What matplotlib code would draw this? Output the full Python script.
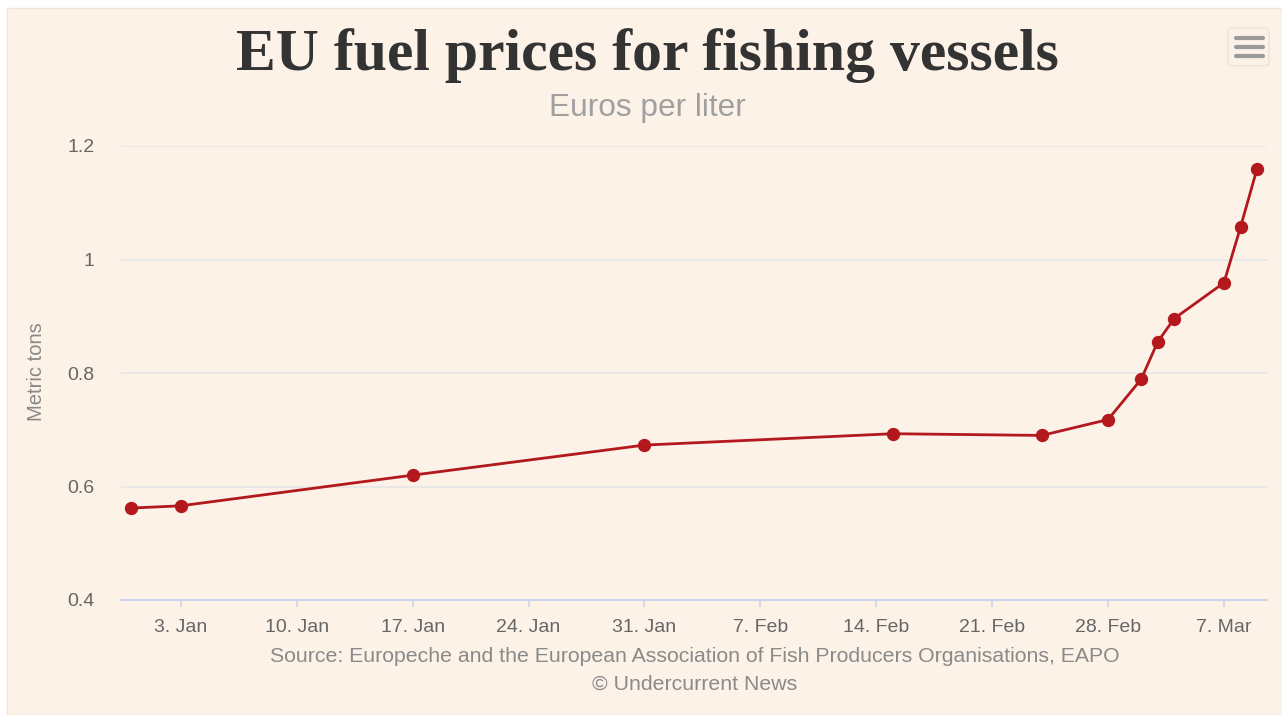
import numpy as np
import pandas as pd

import matplotlib
matplotlib.use("Agg")
import matplotlib.pyplot as plt
import matplotlib.dates as mdates
from matplotlib.patches import Rectangle, FancyBboxPatch

# data (euros per liter)
dates = pd.to_datetime([
    "2021-12-31", "2022-01-03", "2022-01-17", "2022-01-31", "2022-02-15",
    "2022-02-24", "2022-02-28", "2022-03-02", "2022-03-03", "2022-03-04",
    "2022-03-07", "2022-03-08", "2022-03-09",
])
prices = [0.562, 0.566, 0.620, 0.673, 0.693, 0.690, 0.718,
          0.789, 0.855, 0.896, 0.959, 1.057, 1.160]

y_ticks = [0.4, 0.6, 0.8, 1.0, 1.2]
y_tick_labels = ["0.4", "0.6", "0.8", "1", "1.2"]

TITLE = "EU fuel prices for fishing vessels"
SUBTITLE = "Euros per liter"
Y_LABEL = "Metric tons"
SOURCE = "Source: Europeche and the European Association of Fish Producers Organisations, EAPO"
CREDIT = "\u00a9 Undercurrent News"

BG = "#fdf2e8"
LINE_RED = "#b3181d"
W, H = 1282, 715

plt.rcParams["font.family"] = ["Liberation Sans", "DejaVu Sans"]

fig = plt.figure(figsize=(W / 100, H / 100), dpi=100, facecolor="white")

# pixel-space overlay for background and decorations
deco = fig.add_axes([0, 0, 1, 1], zorder=0)
deco.set_xlim(0, W)
deco.set_ylim(H, 0)
deco.axis("off")
deco.add_patch(Rectangle((7, 8), W - 7, H - 8, facecolor=BG, edgecolor="#f0e4da", lw=1))

# hamburger menu
deco.add_patch(FancyBboxPatch((1228, 28), 41, 38, boxstyle="round,pad=0,rounding_size=4",
                              facecolor=BG, edgecolor="#f1e2d4", lw=1))
for yy in (38, 47, 56):
    deco.plot([1236, 1263], [yy, yy], color="#9a9a9a", lw=3, solid_capstyle="round")

deco.text(647, 70, TITLE, ha="center", va="baseline", fontsize=43,
          family="Liberation Serif", fontweight="bold", color="#333333")
deco.text(647, 116, SUBTITLE, ha="center", va="baseline", fontsize=22.8, color="#a0a0a0")
deco.text(695, 657, SOURCE, ha="center", va="center", fontsize=15.3, color="#8a8a8a")
deco.text(695, 684, CREDIT, ha="center", va="center", fontsize=15.3, color="#8a8a8a")
deco.text(37, 372, Y_LABEL, ha="center", va="center", rotation=90, fontsize=14.5, color="#888888")

# main plot
ax = fig.add_axes([121 / W, 1 - 600 / H, (1267 - 121) / W, (600 - 146) / H], zorder=1)
ax.patch.set_alpha(0)

ax.plot(dates, prices, color=LINE_RED, lw=2.0, marker="o", markersize=9.6,
        markeredgewidth=0, zorder=3)

ax.set_ylim(0.4, 1.2)
ax.set_yticks(y_ticks)
ax.set_yticklabels(y_tick_labels)
ax.set_xlim(pd.Timestamp("2022-01-03") - pd.Timedelta(days=3.62),
            pd.Timestamp("2022-01-03") + pd.Timedelta(days=65.6))

ax.xaxis.set_major_locator(mdates.WeekdayLocator(byweekday=mdates.MO))
ax.xaxis.set_major_formatter(mdates.DateFormatter("%-d. %b"))

ax.grid(axis="y", color="#e6e6e6", lw=1.2, zorder=0)
for side in ("top", "right", "left"):
    ax.spines[side].set_visible(False)
ax.spines["bottom"].set_color("#ccd6eb")
ax.spines["bottom"].set_linewidth(1.5)

ax.tick_params(axis="y", length=0, pad=19, labelsize=14, labelcolor="#666666")
ax.tick_params(axis="x", length=5, width=1.2, color="#ccd6eb", pad=9,
               labelsize=14, labelcolor="#666666")

fig.savefig("out.png", dpi=100, facecolor="white")
plt.close(fig)
